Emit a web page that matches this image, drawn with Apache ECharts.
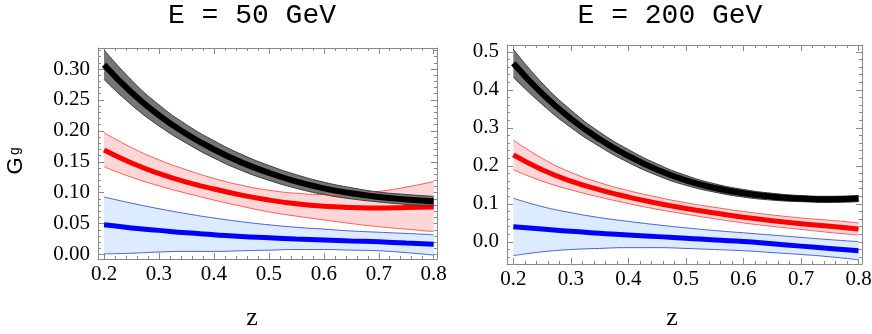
<!DOCTYPE html>
<html>
<head>
<meta charset="utf-8">
<script src="https://cdn.jsdelivr.net/npm/echarts@6/dist/echarts.min.js"></script>
<style>
html, body { margin: 0; padding: 0; background: #fff; }
#main { width: 872px; height: 334px; }
</style>
</head>
<body>
<div id="main"></div>
<script>
var zVals = [0.2, 0.25, 0.3, 0.35, 0.4, 0.45, 0.5, 0.55, 0.6, 0.65, 0.7, 0.75, 0.8];

// E = 50 GeV
var black50   = [0.307, 0.262, 0.225, 0.195, 0.170, 0.149, 0.132, 0.118, 0.107, 0.099, 0.093, 0.089, 0.086];
var black50Hi = [0.331, 0.282, 0.242, 0.210, 0.184, 0.162, 0.144, 0.129, 0.117, 0.108, 0.101, 0.097, 0.094];
var black50Lo = [0.283, 0.242, 0.208, 0.180, 0.156, 0.136, 0.120, 0.107, 0.097, 0.090, 0.085, 0.081, 0.078];
var red50     = [0.169, 0.148, 0.131, 0.117, 0.106, 0.096, 0.088, 0.082, 0.078, 0.076, 0.075, 0.076, 0.077];
var red50Hi   = [0.197, 0.173, 0.153, 0.137, 0.123, 0.112, 0.104, 0.099, 0.097, 0.098, 0.102, 0.109, 0.118];
var red50Lo   = [0.142, 0.125, 0.111, 0.099, 0.088, 0.078, 0.069, 0.062, 0.056, 0.050, 0.045, 0.041, 0.037];
var blue50    = [0.048, 0.043, 0.039, 0.035, 0.032, 0.029, 0.027, 0.025, 0.0235, 0.022, 0.0205, 0.0185, 0.0165];
var blue50Hi  = [0.093, 0.083, 0.074, 0.066, 0.059, 0.053, 0.048, 0.044, 0.041, 0.038, 0.036, 0.034, 0.032];
var blue50Lo  = [0.001, 0.002, 0.004, 0.005, 0.005, 0.006, 0.007, 0.008, 0.008, 0.007, 0.006, 0.003, -0.001];

// E = 200 GeV
var black200   = [0.470, 0.390, 0.324, 0.270, 0.226, 0.190, 0.162, 0.142, 0.128, 0.119, 0.114, 0.112, 0.114];
var black200Hi = [0.507, 0.418, 0.347, 0.289, 0.243, 0.205, 0.175, 0.153, 0.138, 0.128, 0.122, 0.120, 0.122];
var black200Lo = [0.433, 0.362, 0.301, 0.251, 0.209, 0.175, 0.149, 0.131, 0.118, 0.110, 0.106, 0.104, 0.106];
var red200     = [0.229, 0.190, 0.160, 0.137, 0.118, 0.102, 0.088, 0.076, 0.065, 0.056, 0.048, 0.041, 0.034];
var red200Hi   = [0.268, 0.220, 0.183, 0.156, 0.135, 0.118, 0.103, 0.091, 0.080, 0.071, 0.063, 0.057, 0.050];
var red200Lo   = [0.190, 0.160, 0.137, 0.118, 0.101, 0.086, 0.073, 0.061, 0.050, 0.041, 0.033, 0.025, 0.018];
var blue200    = [0.040, 0.034, 0.028, 0.023, 0.018, 0.014, 0.010, 0.005, 0.001, -0.005, -0.011, -0.017, -0.023];
var blue200Hi  = [0.115, 0.093, 0.077, 0.064, 0.054, 0.045, 0.037, 0.030, 0.024, 0.018, 0.012, 0.006, 0.001];
var blue200Lo  = [-0.036, -0.026, -0.020, -0.017, -0.015, -0.015, -0.017, -0.020, -0.023, -0.028, -0.033, -0.039, -0.047];

// tick labels
var xTicks = [0.2, 0.3, 0.4, 0.5, 0.6, 0.7, 0.8];
var yTicks50 = [0, 0.05, 0.10, 0.15, 0.20, 0.25, 0.30];
var yTicks200 = [0, 0.1, 0.2, 0.3, 0.4, 0.5];

function steps(a, b, d) {
    var out = [];
    for (var i = 0; a + i * d <= b + 1e-9; i++) out.push(+(a + i * d).toFixed(4));
    return out;
}
var xMinor = steps(0.2, 0.8, 0.02);
var yMinor50 = steps(0, 0.33, 0.01);
var yMinor200 = steps(-0.04, 0.5, 0.02);

var frameColor = '#8a8a8a';
var serif = 'Liberation Serif';

// value first, z second: the stack then works on the value column
function pair(v) {
    return zVals.map(function (z, i) { return [v[i], z]; });
}

function xAx(grid, pos, ticks, len, labels) {
    return {
        gridIndex: grid, type: 'value', position: pos, min: 0.189, max: 0.806,
        axisLine: { show: labels !== null, onZero: false, lineStyle: { color: frameColor, width: 1 } },
        axisTick: { show: true, inside: true, length: len, customValues: ticks, lineStyle: { color: frameColor } },
        axisLabel: labels ? {
            show: true, customValues: labels, margin: 5,
            formatter: function (v) { return v.toFixed(1); },
            fontFamily: serif, fontSize: 21, color: '#000'
        } : { show: false },
        splitLine: { show: false }
    };
}

function yAx(grid, pos, min, max, ticks, len, labels, dec) {
    return {
        gridIndex: grid, type: 'value', position: pos, min: min, max: max,
        axisLine: { show: labels !== null, onZero: false, lineStyle: { color: frameColor, width: 1 } },
        axisTick: { show: true, inside: true, length: len, customValues: ticks, lineStyle: { color: frameColor } },
        axisLabel: labels ? {
            show: true, customValues: labels, margin: 8,
            formatter: function (v) { return v.toFixed(dec); },
            fontFamily: serif, fontSize: 21, color: '#000'
        } : { show: false },
        splitLine: { show: false }
    };
}

function band(ax, lo, hi, name, fill) {
    var diff = hi.map(function (v, i) { return +(v - lo[i]).toFixed(4); });
    return [
        { type: 'line', xAxisIndex: ax, yAxisIndex: ax, data: pair(lo), encode: { x: 1, y: 0 },
          stack: name, stackStrategy: 'all', symbol: 'none', smooth: true, silent: true, lineStyle: { opacity: 0 } },
        { type: 'line', xAxisIndex: ax, yAxisIndex: ax, data: pair(diff), encode: { x: 1, y: 0 },
          stack: name, stackStrategy: 'all', symbol: 'none', smooth: true, silent: true, lineStyle: { opacity: 0 },
          areaStyle: { color: fill, opacity: 1 } }
    ];
}

function line(ax, v, color, w) {
    return { type: 'line', xAxisIndex: ax, yAxisIndex: ax, data: pair(v), encode: { x: 1, y: 0 },
             symbol: 'none', smooth: true, silent: true, lineStyle: { color: color, width: w } };
}

function panel(ax, k, kHi, kLo, r, rHi, rLo, b, bHi, bLo) {
    var s = [];
    s = s.concat(band(ax, bLo, bHi, 'blue' + ax, '#dcebff'));
    s.push(line(ax, bHi, '#4b5fd8', 1), line(ax, bLo, '#4b5fd8', 1), line(ax, b, '#0000ff', 5));
    s = s.concat(band(ax, rLo, rHi, 'red' + ax, '#ffd6d6'));
    s.push(line(ax, rHi, '#ff5a5a', 1), line(ax, rLo, '#ff5a5a', 1), line(ax, r, '#ff0000', 5));
    s = s.concat(band(ax, kLo, kHi, 'black' + ax, '#767676'));
    s.push(line(ax, kHi, '#3a3a3a', 1), line(ax, kLo, '#3a3a3a', 1), line(ax, k, '#000000', 6));
    return s;
}

var myChart = echarts.init(document.getElementById('main'));

var grid50 = { left: 98, top: 48, width: 339, height: 211, outerBoundsMode: 'none' };
var grid200 = { left: 507, top: 45, width: 355, height: 219, outerBoundsMode: 'none' };

var option = {
    animation: false,
    grid: [grid50, Object.assign({}, grid50), grid200, Object.assign({}, grid200)],
    xAxis: [
        xAx(0, 'bottom', xTicks, 6, xTicks),
        xAx(0, 'top', xTicks, 6, false),
        xAx(1, 'bottom', xMinor, 3, null),
        xAx(1, 'top', xMinor, 3, null),
        xAx(2, 'bottom', xTicks, 6, xTicks),
        xAx(2, 'top', xTicks, 6, false),
        xAx(3, 'bottom', xMinor, 3, null),
        xAx(3, 'top', xMinor, 3, null)
    ],
    yAxis: [
        yAx(0, 'left', -0.0073, 0.334, yTicks50, 6, yTicks50, 2),
        yAx(0, 'right', -0.0073, 0.334, yTicks50, 6, false, 2),
        yAx(1, 'left', -0.0073, 0.334, yMinor50, 3, null, 2),
        yAx(1, 'right', -0.0073, 0.334, yMinor50, 3, null, 2),
        yAx(2, 'left', -0.058, 0.518, yTicks200, 6, yTicks200, 1),
        yAx(2, 'right', -0.058, 0.518, yTicks200, 6, false, 1),
        yAx(3, 'left', -0.058, 0.518, yMinor200, 3, null, 1),
        yAx(3, 'right', -0.058, 0.518, yMinor200, 3, null, 1)
    ],
    graphic: [
        { type: 'text', x: 252, y: 16, style: { text: 'E = 50 GeV', font: '28px "Liberation Mono"', fill: '#000', textAlign: 'center', textVerticalAlign: 'middle' } },
        { type: 'text', x: 670, y: 16, style: { text: 'E = 200 GeV', font: '28px "Liberation Mono"', fill: '#000', textAlign: 'center', textVerticalAlign: 'middle' } },
        { type: 'text', x: 252, y: 318, style: { text: 'z', font: '26px "Liberation Serif"', fill: '#000', textAlign: 'center', textVerticalAlign: 'middle' } },
        { type: 'text', x: 672, y: 318, style: { text: 'z', font: '26px "Liberation Serif"', fill: '#000', textAlign: 'center', textVerticalAlign: 'middle' } },
        { type: 'text', x: 16, y: 166, rotation: Math.PI / 2, style: { text: 'G', font: '22px "Liberation Sans"', fill: '#000', textAlign: 'center', textVerticalAlign: 'middle' } },
        { type: 'text', x: 15, y: 151, rotation: Math.PI / 2, style: { text: 'g', font: '14px "Liberation Sans"', fill: '#000', textAlign: 'center', textVerticalAlign: 'middle' } }
    ],
    series: panel(0, black50, black50Hi, black50Lo, red50, red50Hi, red50Lo, blue50, blue50Hi, blue50Lo)
        .concat(panel(4, black200, black200Hi, black200Lo, red200, red200Hi, red200Lo, blue200, blue200Hi, blue200Lo))
};
myChart.setOption(option);
</script>
</body>
</html>
